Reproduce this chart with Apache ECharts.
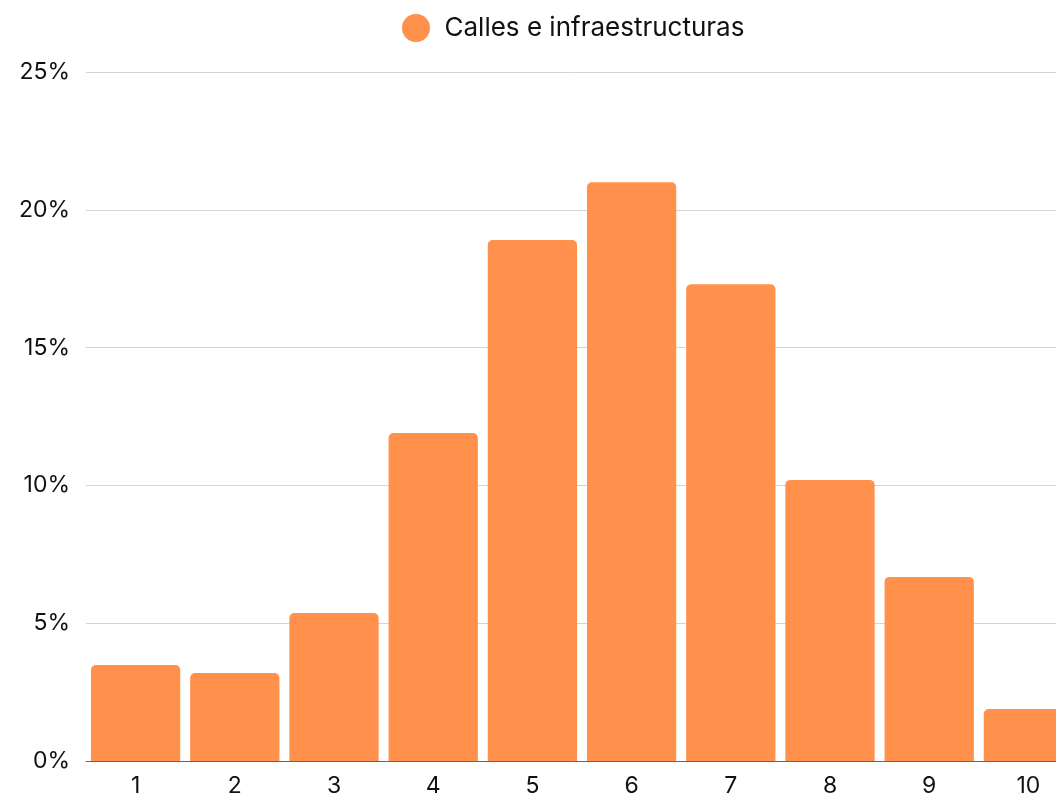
<!DOCTYPE html>
<html><head><meta charset="utf-8">
<script src="https://cdn.jsdelivr.net/npm/echarts@6/dist/echarts.min.js"></script>
<style>html,body{margin:0;padding:0;background:#fff}#c{width:1056px;height:800px}</style>
</head><body><div id="c"></div>
<script>
const categories = ['1','2','3','4','5','6','7','8','9','10'];
const seriesName = 'Calles e infraestructuras';
const values = [3.48, 3.19, 5.37, 11.9, 18.9, 21.0, 17.3, 10.2, 6.68, 1.89];
const yTicks = [0, 5, 10, 15, 20, 25];

const chart = echarts.init(document.getElementById('c'), null, {renderer:'canvas'});
chart.setOption({
  animation: false,
  textStyle: {fontFamily: 'Inter, sans-serif'},
  legend: {
    top: 9, left: 397, icon: 'circle', itemWidth: 29, itemHeight: 28, itemGap: 10,
    textStyle: {fontSize: 26, color: '#111', fontFamily: 'Inter', padding: [0,0,0,9]},
    data: [seriesName]
  },
  grid: {left: 86, right: -22, top: 72, bottom: 39, containLabel: false, outerBoundsMode: 'none'},
  xAxis: {
    type: 'category', data: categories,
    axisLine: {lineStyle: {color: '#666', width: 1}},
    axisTick: {show: false},
    axisLabel: {fontSize: 23, color: '#111', margin: 14, fontFamily: 'Inter'}
  },
  yAxis: {
    type: 'value', min: yTicks[0], max: yTicks[yTicks.length-1], interval: 5,
    axisLine: {show: false}, axisTick: {show: false},
    axisLabel: {fontSize: 23, color: '#111', margin: 16, formatter: v => v + '%', fontFamily: 'Inter'},
    splitLine: {lineStyle: {color: '#d4d4d4', width: 1}}
  },
  series: [{
    name: seriesName, type: 'bar', data: values,
    barCategoryGap: '10%',
    itemStyle: {color: '#FF914D', borderRadius: [5,5,0,0]}
  }]
});
</script></body></html>
